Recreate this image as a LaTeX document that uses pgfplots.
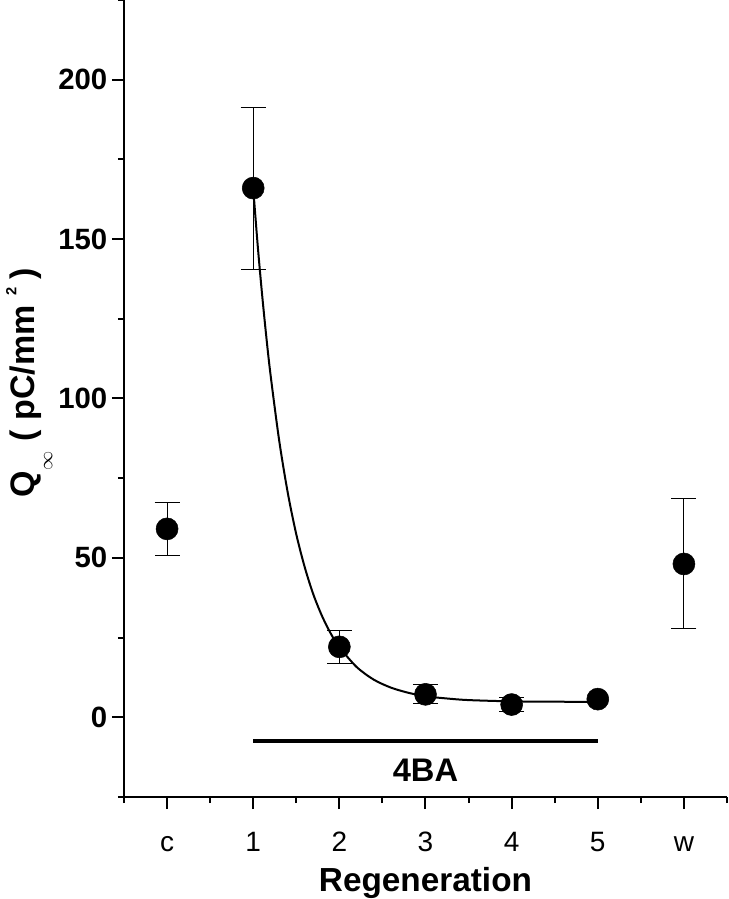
\documentclass[border=0pt]{standalone}
\usepackage{fontspec}
\setmainfont{Liberation Sans}
\usepackage{pgfplots}
\pgfplotsset{compat=1.18}
\begin{document}
\begin{tikzpicture}
\begin{axis}[name=ax,
  scale only axis, width=452.25pt, height=597.75pt,
  xmin=-0.5, xmax=6.5, ymin=-25, ymax=225,
  axis x line*=bottom, axis y line*=left,
  axis line style={line width=1.5pt,-},
  xtick={0,...,6}, xticklabels={c,1,2,3,4,5,w},
  minor xtick={-0.5,0.5,...,6.5},
  ytick={0,50,...,200}, minor ytick={-25,25,...,225},
  tick align=outside, major tick length=9pt, minor tick length=4.5pt,
  every tick/.style={line width=1.5pt,black},
  /pgf/number format/assume math mode=true,
  yticklabel style={font=\fontsize{22}{22}\selectfont\bfseries},
  xticklabel style={font=\fontsize{21}{21}\selectfont, text height=15pt, text depth=0pt, yshift=-13pt},
  clip=false,
]
% fitted decay curve
\addplot[line width=1.5pt, smooth, tension=0.5] coordinates {
  (1.00,166) (1.05,148.7) (1.10,133.5) (1.15,119.9) (1.20,107.7)
  (1.30,87.1) (1.40,70.6) (1.50,57.4) (1.60,46.9) (1.70,38.4)
  (1.80,31.7) (1.90,26.3) (2.00,22.0) (2.20,15.8) (2.40,11.8)
  (2.60,9.3) (2.80,7.7) (3.00,6.6) (3.25,5.9) (3.50,5.4)
  (4.00,5.0) (4.50,4.9) (5.00,4.8)};
% 4BA treatment bar
\addplot[line width=3pt] coordinates {(1,-7.5) (5,-7.5)};
% data with error bars
\addplot[only marks, mark=*, mark size=8.25pt, black,
  error bars/.cd, y dir=both, y explicit,
  error bar style={line width=0.75pt},
  error mark options={rotate=90, line width=0.75pt, mark size=9.4pt, black}]
  coordinates {
  (0,59.1) +- (0,8.2)
  (1,166.0) +- (0,25.4)
  (2,22.1) +- (0,5.2)
  (3,7.2) +- (0,3.0)
  (4,4.0) +- (0,2.3)
  (6,48.1) +- (0,20.4)};
\addplot[only marks, mark=*, mark size=8.25pt, black]
  coordinates {(5,5.7)};
\node[font=\fontsize{24.5}{24.5}\selectfont\bfseries] at (axis cs:3,-16.7) {4BA};
\node[font=\fontsize{25}{25}\selectfont\bfseries] at (axis cs:3,-52) {Regeneration};
\node[rotate=90, anchor=base west, inner sep=0pt, font=\fontsize{25.5}{25.5}\selectfont\bfseries]
  at ([xshift=-66.75pt]axis cs:-0.5,68.9)
  {Q\raisebox{-13pt}{\fontsize{14}{14}\selectfont\mdseries$\infty$}\hspace{8pt}(\ pC/mm\hspace{7pt}\raisebox{14pt}{\fontsize{11}{11}\selectfont 2}\hspace{6pt})};
\end{axis}
\pgfresetboundingbox
\path ([xshift=-93pt,yshift=-76.5pt]ax.south west) rectangle ([xshift=1.5pt]ax.north east);
\end{tikzpicture}
\end{document}
